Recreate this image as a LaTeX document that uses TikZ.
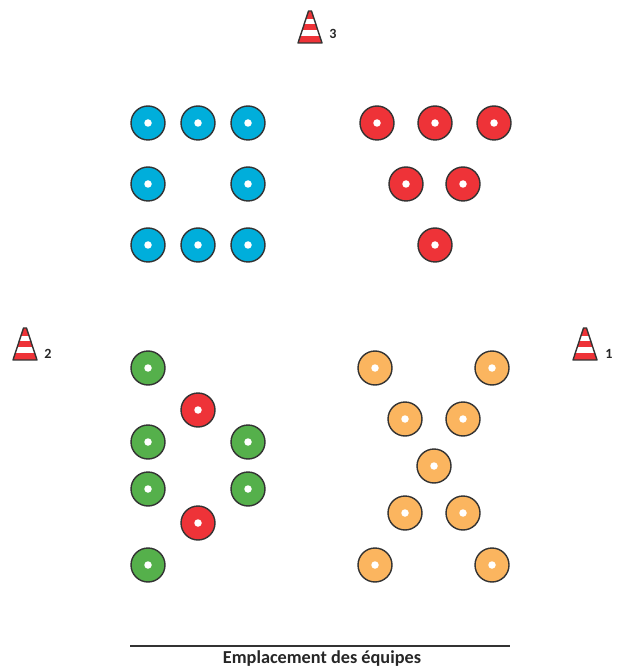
\documentclass[tikz,border=0pt]{standalone}
\usepackage{fontspec}
\setmainfont{Carlito}
\usepackage{xcolor}
\usetikzlibrary{positioning}
\definecolor{teamblue}{HTML}{00AEDB}
\definecolor{teamred}{HTML}{EE3338}
\definecolor{teamgreen}{HTML}{55B04B}
\definecolor{teamorange}{HTML}{FBB55F}

\begin{document}
\begin{tikzpicture}[
    x=0.02cm,
    y=-0.02cm,
    disc/.style = {
        circle,
        draw=black!80,
        line width=0.8pt,
        minimum size=0.68cm,
        inner sep=0pt,
        path picture={\fill[white] (path picture bounding box.center) circle (0.075cm);}
    },
    blue disc/.style   = {disc, fill=teamblue},
    red disc/.style    = {disc, fill=teamred},
    green disc/.style  = {disc, fill=teamgreen},
    orange disc/.style = {disc, fill=teamorange},
    conelabel/.style = {inner sep=0pt, font=\bfseries\footnotesize, text=black!85},
    cone/.pic = {
        \begin{scope}
            \clip (-12,-1) -- (12,-1) -- (1.5,-33) -- (-1.5,-33) -- cycle;
            \fill[teamred] (-13,-1) rectangle (13,-8);
            \fill[teamred] (-13,-14) rectangle (13,-20);
            \fill[teamred] (-13,-25) rectangle (13,-33);
        \end{scope}
        \draw[black!80, line width=0.8pt, line join=round] (-12,-1) -- (12,-1) -- (1.5,-33) -- (-1.5,-33) -- cycle;
    }
]
\useasboundingbox (0,0) rectangle (617,668);

%% Cones
\pic at (310,44) {cone};
\node[conelabel] (c3) at (333,34) {3};
\pic at (25,361) {cone};
\node[conelabel] (c2) at (48,354) {2};
\pic at (585,361) {cone};
\node[conelabel] (c1) at (609,354) {1};

%% Blue team
\foreach \px/\py [count=\i] in {148/123, 198/123, 248/123, 148/184, 248/184, 148/245, 198/245, 248/245}
    \node[blue disc] (b\i) at (\px,\py) {};

%% Red team
\foreach \px/\py [count=\i] in {377/123, 435/123, 494/123, 406/184, 463/184, 435/245, 198/410, 198/523}
    \node[red disc] (r\i) at (\px,\py) {};

%% Green team
\foreach \px/\py [count=\i] in {148/368, 148/442, 248/442, 148/489, 248/489, 148/565}
    \node[green disc] (g\i) at (\px,\py) {};

%% Orange team
\foreach \px/\py [count=\i] in {375/368, 492/368, 405/419, 463/419, 434/466, 405/513, 463/513, 375/565, 492/565}
    \node[orange disc] (o\i) at (\px,\py) {};

%% Caption
\coordinate (ruleleft) at (130,646);
\coordinate (ruleright) at (510,646);
\draw[black!80, line width=0.7pt] (ruleleft) -- (ruleright);
\node[inner sep=0pt, font=\bfseries\fontsize{10.4}{12}\selectfont, text=black!85] (caption) at (322,659) {Emplacement des équipes};

\end{tikzpicture}
\end{document}
